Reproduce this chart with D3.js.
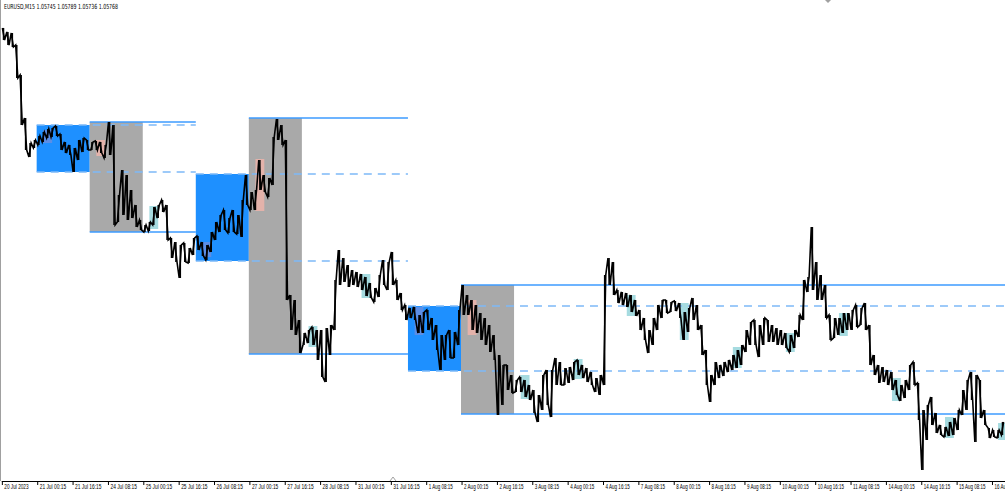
<!DOCTYPE html>
<html>
<head>
<meta charset="utf-8">
<script src="https://cdn.jsdelivr.net/npm/d3@7"></script>
<style>
  body { margin: 0; background: #fff; }
  svg { display: block; }
</style>
</head>
<body>
<div id="chart"></div>
<script>
// time axis: trading hours counted from 20 Jul 2023 08:00 (weekends skipped)
const tickLabels = ["20 Jul 2023", "21 Jul 00:15", "21 Jul 16:15", "24 Jul 08:15", "25 Jul 00:15", "25 Jul 16:15",
  "26 Jul 08:15", "27 Jul 00:15", "27 Jul 16:15", "28 Jul 08:15", "31 Jul 00:15", "31 Jul 16:15", "1 Aug 08:15",
  "2 Aug 00:15", "2 Aug 16:15", "3 Aug 08:15", "4 Aug 00:15", "4 Aug 16:15", "7 Aug 08:15", "8 Aug 00:15",
  "8 Aug 16:15", "9 Aug 08:15", "10 Aug 00:15", "10 Aug 16:15", "11 Aug 08:15", "14 Aug 00:15", "14 Aug 16:15",
  "15 Aug 08:15", "16 Aug 00:15"];
const tickHours = tickLabels.map((d, i) => 0.25 + i * 16);

// 2-hour bars (high / low), first bar starts at hour 0
const barHighs = [1.1222, 1.1218, 1.1217, 1.1205, 1.1175, 1.1132, 1.1107, 1.1110, 1.1114, 1.1118,
  1.1121, 1.1122, 1.1124, 1.1116, 1.1108, 1.1105, 1.1102, 1.1110, 1.1112, 1.1110,
  1.1108, 1.1109, 1.1108, 1.1105, 1.1128, 1.1125, 1.1055, 1.1080, 1.1075, 1.1060,
  1.1045, 1.1030, 1.1025, 1.1028, 1.1043, 1.1045, 1.1050, 1.1045, 1.1012, 1.1008,
  1.1005, 1.1007, 1.1002, 1.1012, 1.1014, 1.1008, 1.1005, 1.1018, 1.1028, 1.1035,
  1.1040, 1.1032, 1.1040, 1.1035, 1.1050, 1.1075, 1.1058, 1.1060, 1.1090, 1.1075,
  1.1072, 1.1113, 1.1131, 1.1125, 1.1110, 1.0955, 1.0950, 1.0930, 1.0917, 1.0920,
  1.0923, 1.0920, 1.0920, 1.0922, 1.0925, 1.0970, 1.1000, 1.0992, 1.0985, 1.0980,
  1.0978, 1.0976, 1.0973, 1.0967, 1.0962, 1.0975, 1.0990, 1.0988, 1.0998, 1.0970,
  1.0957, 1.0945, 1.0942, 1.0943, 1.0935, 1.0938, 1.0940, 1.0932, 1.0925, 1.0915,
  1.0915, 1.0920, 1.0918, 1.0940, 1.0965, 1.0955, 1.0950, 1.0945, 1.0937, 1.0932,
  1.0925, 1.0915, 1.0895, 1.0885, 1.0885, 1.0875, 1.0870, 1.0873, 1.0870, 1.0865,
  1.0860, 1.0855, 1.0875, 1.0880, 1.0880, 1.0892, 1.0888, 1.0882, 1.0883, 1.0888,
  1.0890, 1.0885, 1.0882, 1.0878, 1.0872, 1.0875, 1.0975, 1.0992, 1.0988, 1.0960,
  1.0958, 1.0957, 1.0955, 1.0950, 1.0940, 1.0932, 1.0920, 1.0932, 1.0945, 1.0950,
  1.0950, 1.0948, 1.0949, 1.0947, 1.0938, 1.0942, 1.0952, 1.0945, 1.0925, 1.0900,
  1.0875, 1.0888, 1.0885, 1.0888, 1.0890, 1.0895, 1.0900, 1.0905, 1.0920, 1.0928,
  1.0930, 1.0925, 1.0932, 1.0930, 1.0925, 1.0922, 1.0920, 1.0917, 1.0915, 1.0920,
  1.0935, 1.0970, 1.0973, 1.1023, 1.0988, 1.0975, 1.0965, 1.0935, 1.0932, 1.0932,
  1.0937, 1.0937, 1.0940, 1.0945, 1.0942, 1.0947, 1.0925, 1.0895, 1.0885, 1.0883,
  1.0880, 1.0878, 1.0870, 1.0865, 1.0870, 1.0885, 1.0888, 1.0867, 1.0840, 1.0845,
  1.0853, 1.0837, 1.0825, 1.0823, 1.0828, 1.0832, 1.0840, 1.0860, 1.0870, 1.0878,
  1.0875, 1.0870, 1.0840, 1.0822, 1.0820, 1.0820, 1.0828];
const barLows = [1.1210, 1.1205, 1.1203, 1.1172, 1.1125, 1.1100, 1.1093, 1.1102, 1.1105, 1.1108,
  1.1112, 1.1113, 1.1114, 1.1100, 1.1097, 1.1095, 1.1078, 1.1090, 1.1098, 1.1100,
  1.1100, 1.1100, 1.1097, 1.1092, 1.1095, 1.1025, 1.1028, 1.1035, 1.1030, 1.1032,
  1.1023, 1.1020, 1.1018, 1.1019, 1.1025, 1.1032, 1.1038, 1.1010, 1.0992, 1.0988,
  1.0972, 1.0988, 1.0987, 1.0995, 1.1000, 1.0994, 1.0990, 1.0998, 1.1010, 1.1018,
  1.1020, 1.1017, 1.1018, 1.1016, 1.1013, 1.1045, 1.1040, 1.1040, 1.1060, 1.1058,
  1.1053, 1.1065, 1.1110, 1.1105, 1.0950, 1.0920, 1.0915, 1.0897, 1.0905, 1.0907,
  1.0905, 1.0890, 1.0873, 1.0868, 1.0895, 1.0920, 1.0965, 1.0968, 1.0963, 1.0965,
  1.0963, 1.0960, 1.0954, 1.0952, 1.0948, 1.0953, 1.0965, 1.0960, 1.0965, 1.0950,
  1.0940, 1.0930, 1.0932, 1.0930, 1.0917, 1.0917, 1.0920, 1.0910, 1.0900, 1.0880,
  1.0890, 1.0892, 1.0892, 1.0905, 1.0935, 1.0935, 1.0920, 1.0917, 1.0910, 1.0905,
  1.0898, 1.0890, 1.0835, 1.0845, 1.0860, 1.0857, 1.0858, 1.0858, 1.0853, 1.0850,
  1.0837, 1.0828, 1.0840, 1.0845, 1.0833, 1.0865, 1.0865, 1.0865, 1.0867, 1.0870,
  1.0875, 1.0872, 1.0868, 1.0865, 1.0858, 1.0855, 1.0865, 1.0965, 1.0955, 1.0947,
  1.0945, 1.0943, 1.0938, 1.0934, 1.0920, 1.0910, 1.0897, 1.0905, 1.0920, 1.0932,
  1.0937, 1.0938, 1.0939, 1.0932, 1.0910, 1.0918, 1.0930, 1.0920, 1.0895, 1.0865,
  1.0848, 1.0865, 1.0872, 1.0874, 1.0878, 1.0880, 1.0882, 1.0885, 1.0898, 1.0905,
  1.0905, 1.0893, 1.0905, 1.0908, 1.0908, 1.0905, 1.0905, 1.0902, 1.0898, 1.0902,
  1.0913, 1.0930, 1.0958, 1.0960, 1.0950, 1.0950, 1.0932, 1.0910, 1.0912, 1.0915,
  1.0917, 1.0920, 1.0920, 1.0923, 1.0925, 1.0920, 1.0885, 1.0875, 1.0867, 1.0868,
  1.0865, 1.0860, 1.0855, 1.0849, 1.0852, 1.0860, 1.0865, 1.0830, 1.0780, 1.0810,
  1.0825, 1.0817, 1.0815, 1.0813, 1.0814, 1.0815, 1.0820, 1.0835, 1.0840, 1.0850,
  1.0808, 1.0832, 1.0825, 1.0812, 1.0813, 1.0812, 1.0815];

// previous-day range (blue) and reference-day range (gray), start hours
const prevDayStart = [16, 88, 184];
const prevDayHigh = [1.1125, 1.1076, 1.0944];
const prevDayLow = [1.1078, 1.0989, 1.0879];
const refDayHigh = [1.1128, 1.1132, 1.0965];
const refDayLow = [1.1018, 1.0896, 1.0836];
const levelEnd = [88, 184, 455];

// early-session window boxes (4 hours each)
const windowStart = [19, 43, 67, 91, 115, 139, 163, 187, 211, 235, 259, 283, 307, 331, 355, 379, 403, 427, 451];
const windowHigh = [1.1120, 1.1110, 1.1044, 1.1008, 1.1091, 1.0924, 1.0976, 1.0943, 1.0950, 1.0875,
  1.0891, 1.0955, 1.0947, 1.0903, 1.0917, 1.0937, 1.0872, 1.0833, 1.0827];
const windowLow = [1.1107, 1.1094, 1.1021, 1.0993, 1.1039, 1.0903, 1.0952, 1.0915, 1.0915, 1.0851,
  1.0871, 1.0934, 1.0910, 1.0882, 1.0898, 1.0914, 1.0849, 1.0812, 1.0810];

const width = 1005, height = 495;
const svg = d3.select("#chart").append("svg")
  .attr("width", width)
  .attr("height", height)
  .style("font-family", "Tahoma, 'DejaVu Sans', sans-serif");

const x = d3.scaleLinear().domain([0, 455]).range([1.3, 1006.9]);
const y = d3.scaleLinear().domain([1.0775, 1.1250]).range([475, 0]);

const blue = "#1e90ff", gray = "#a9a9a9";

// day range boxes
prevDayStart.forEach((s, i) => {
  svg.append("rect")
    .attr("x", x(s)).attr("y", y(prevDayHigh[i]))
    .attr("width", x(s + 24) - x(s))
    .attr("height", y(prevDayLow[i]) - y(prevDayHigh[i]))
    .attr("fill", blue);
  svg.append("rect")
    .attr("x", x(s + 24)).attr("y", y(refDayHigh[i]))
    .attr("width", x(s + 48) - x(s + 24))
    .attr("height", y(refDayLow[i]) - y(refDayHigh[i]))
    .attr("fill", gray);
});

// session windows, colour depends on what is behind them
windowStart.forEach((s, i) => {
  let fill = "#a6dbe0";
  prevDayStart.forEach(p => {
    if (s >= p && s < p + 24) fill = "#5b8ee6";
    if (s >= p + 24 && s < p + 48) fill = "#e3b2aa";
  });
  svg.append("rect")
    .attr("x", x(s)).attr("y", y(windowHigh[i]))
    .attr("width", x(s + 4) - x(s))
    .attr("height", y(windowLow[i]) - y(windowHigh[i]))
    .attr("fill", fill);
});

// level lines
prevDayStart.forEach((s, i) => {
  [refDayHigh[i], refDayLow[i]].forEach(v => {
    svg.append("line")
      .attr("x1", x(s + 24)).attr("x2", x(levelEnd[i]))
      .attr("y1", y(v)).attr("y2", y(v))
      .attr("stroke", "#3d9bff").attr("stroke-width", 1.5);
  });
  [prevDayHigh[i], prevDayLow[i]].forEach(v => {
    svg.append("line")
      .attr("x1", x(s)).attr("x2", x(levelEnd[i]))
      .attr("y1", y(v)).attr("y2", y(v))
      .attr("stroke", "#7db9f7").attr("stroke-width", 1.3)
      .attr("stroke-dasharray", "8,6");
  });
});

// price: zigzag through each bar's high and low, plus the bar ranges
const pts = [];
barHighs.forEach((h, i) => {
  const l = barLows[i];
  const mid = (h + l) / 2;
  const next = i < barHighs.length - 1 ? (barHighs[i + 1] + barLows[i + 1]) / 2 : mid;
  if (next < mid) {
    pts.push([i * 2 + 0.5, h], [i * 2 + 1.5, l]);
  } else {
    pts.push([i * 2 + 0.5, l], [i * 2 + 1.5, h]);
  }
});

svg.append("path")
  .attr("d", d3.line().x(d => x(d[0])).y(d => y(d[1]))(pts))
  .attr("fill", "none")
  .attr("stroke", "#000")
  .attr("stroke-width", 1.6)
  .attr("stroke-linejoin", "miter");

svg.selectAll(".bar")
  .data(barHighs)
  .enter().append("line")
  .attr("x1", (d, i) => x(i * 2 + 1)).attr("x2", (d, i) => x(i * 2 + 1))
  .attr("y1", d => y(d)).attr("y2", (d, i) => y(barLows[i]))
  .attr("stroke", "#000").attr("stroke-width", 1.5);

// frame
svg.append("line")
  .attr("x1", 0.5).attr("x2", 0.5).attr("y1", 0).attr("y2", 481)
  .attr("stroke", "#a0a0a0").attr("stroke-width", 1);

// time axis
const axis = svg.append("g")
  .attr("transform", "translate(0,481)")
  .call(d3.axisBottom(x).tickValues(tickHours).tickFormat((d, i) => tickLabels[i]).tickSize(4).tickSizeOuter(0));
axis.select(".domain").attr("stroke", "#000");
axis.selectAll(".tick line").attr("stroke", "#000");
axis.selectAll(".tick text")
  .attr("text-anchor", "start")
  .attr("x", 2).attr("y", 3)
  .attr("font-size", 7).attr("fill", "#000")
  .attr("textLength", (d, i) => tickLabels[i].length * 2.2)
  .attr("lengthAdjust", "spacingAndGlyphs");

// small chart-shift markers (terminal decorations)
svg.append("path")
  .attr("d", "M390,481 L393,477 L396,481")
  .attr("fill", "none").attr("stroke", "#a0a0a0");
svg.append("path")
  .attr("d", "M825,0 L828,3 L831,0 Z")
  .attr("fill", "#a0a0a0");

// title
svg.append("text")
  .attr("x", 4).attr("y", 9)
  .attr("font-size", 7)
  .attr("textLength", 114)
  .attr("lengthAdjust", "spacingAndGlyphs")
  .text("EURUSD,M15  1.05745 1.05789 1.05736 1.05768");
</script>
</body>
</html>
